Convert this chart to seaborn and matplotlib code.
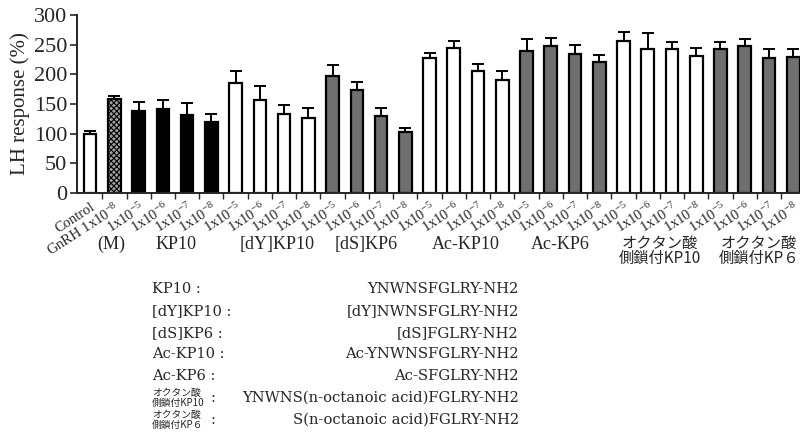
import numpy as np
import pandas as pd
import matplotlib
matplotlib.use("Agg")
import matplotlib.pyplot as plt
import seaborn as sns

# ---- data ----
tick_labels = ["Control", "GnRH 1x10$^{-8}$"] + ["1x10$^{-%d}$" % k for k in (5, 6, 7, 8)] * 7
values = [100, 158,
          138, 141, 131, 120,
          186, 157, 133, 126,
          197, 173, 130, 103,
          227, 244, 205, 191,
          240, 247, 234, 221,
          257, 242, 242, 231,
          243, 247, 227, 230]
errors = [4, 6,
          15, 16, 21, 13,
          20, 23, 16, 18,
          18, 14, 14, 7,
          9, 13, 13, 15,
          20, 15, 16, 12,
          15, 27, 13, 13,
          11, 13, 16, 12]
group_names = ["(M)", "KP10", "[dY]KP10", "[dS]KP6", "Ac-KP10", "Ac-KP6",
               "オクタン酸\n側鎖付KP10", "オクタン酸\n側鎖付KP６"]
group_centers = [0.86, 3.54, 7.7, 11.4, 15.5, 19.4, 23.5, 27.6]
seq_names = ["KP10 :", "[dY]KP10 :", "[dS]KP6 :", "Ac-KP10 :", "Ac-KP6 :",
             "オクタン酸\n側鎖付KP10", "オクタン酸\n側鎖付KP６"]
seq_values = ["YNWNSFGLRY-NH2", "[dY]NWNSFGLRY-NH2", "[dS]FGLRY-NH2",
              "Ac-YNWNSFGLRY-NH2", "Ac-SFGLRY-NH2",
              "YNWNS(n-octanoic acid)FGLRY-NH2", "S(n-octanoic acid)FGLRY-NH2"]

WHITE, BLACK, GRAY, HATCH = "#ffffff", "#000000", "#6f6f6f", "#9a9a9a"
colors = ([WHITE, HATCH] + [BLACK] * 4 + [WHITE] * 4 + [GRAY] * 4 +
          [WHITE] * 4 + [GRAY] * 4 + [WHITE] * 4 + [GRAY] * 4)

sns.set_style("ticks")
plt.rcParams["font.family"] = ["Liberation Serif", "Noto Sans CJK JP"]
plt.rcParams["mathtext.fontset"] = "custom"
plt.rcParams["mathtext.rm"] = "Liberation Serif"
plt.rcParams["mathtext.it"] = "Liberation Serif:italic"
plt.rcParams["mathtext.bf"] = "Liberation Serif:bold"
plt.rcParams["hatch.linewidth"] = 0.8

df = pd.DataFrame({"idx": [str(i) for i in range(len(values))], "value": values})

fig = plt.figure(figsize=(8, 4.4), dpi=100)
ax = fig.add_axes([0.096, 0.561, 0.904, 0.405])

sns.barplot(data=df, x="idx", y="value", hue="idx", palette=colors, legend=False,
            width=0.52, edgecolor="black", linewidth=1.6, ax=ax, errorbar=None)
ax.patches[1].set_hatch("xxxxxx")
ax.patches[1].set_facecolor("#a0a0a0")

x = np.arange(len(values))
ax.errorbar(x, values, yerr=[np.zeros(len(values)), errors], fmt="none",
            ecolor="black", elinewidth=1.4, capsize=4, capthick=1.4, zorder=1)

ax.set_xlim(-0.55, 29.28)
ax.set_ylim(0, 300)
ax.set_yticks(range(0, 301, 50))
ax.tick_params(axis="y", labelsize=16, length=5, width=1.2, pad=2)
ax.set_ylabel("LH response (%)", fontsize=15, labelpad=3)
ax.set_xlabel("")
ax.set_xticks(x)
ax.set_xticklabels(tick_labels, rotation=33, ha="right", rotation_mode="anchor", fontsize=10.5)
ax.tick_params(axis="x", which="major", length=0, pad=5)
ax.set_xticks(np.arange(0.5, 29.5, 1), minor=True)
ax.tick_params(axis="x", which="minor", length=4, width=1.0, direction="out")
for s in ["top", "right"]:
    ax.spines[s].set_visible(False)
for s in ["left", "bottom"]:
    ax.spines[s].set_linewidth(1.4)

# group labels
for name, c in zip(group_names, group_centers):
    if "\n" in name:
        ax.text(c, -0.325, name, transform=ax.get_xaxis_transform(), ha="center", va="center",
                fontsize=11, family=["Noto Sans CJK JP"], linespacing=0.9)
    else:
        ax.text(c, -0.29, name, transform=ax.get_xaxis_transform(),
                ha="center", va="center", fontsize=13)

# sequence table
rows_y = [289, 311, 333, 354, 376, 398, 420]
for name, seq, yy in zip(seq_names, seq_values, rows_y):
    fy = 1 - yy / 440
    if "\n" in name:
        fig.text(152 / 800, fy, name, ha="left", va="center", fontsize=7,
                 family=["Noto Sans CJK JP"], linespacing=0.9)
        fig.text(211 / 800, fy, ":", ha="left", va="center", fontsize=10.5, family=["DejaVu Serif"])
    else:
        fig.text(152 / 800, fy, name, ha="left", va="center", fontsize=10.5, family=["DejaVu Serif"])
    fig.text(519 / 800, fy, seq, ha="right", va="center", fontsize=10.6, family=["DejaVu Serif"])

fig.savefig("out.png", dpi=100)
